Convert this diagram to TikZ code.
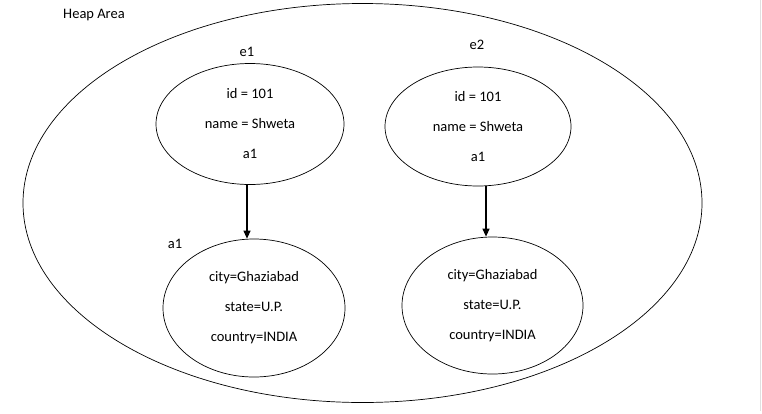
\documentclass[tikz,border=0pt]{standalone}
\usepackage{fontspec}
\setmainfont{Carlito}
\usetikzlibrary{shapes.geometric,arrows.meta}
\begin{document}
\begin{tikzpicture}[x=1pt,y=-1pt,
  every node/.style={font=\fontsize{14.5}{30}\selectfont, text=black},
  oval/.style={draw, ellipse, line width=0.7pt, inner sep=0pt, align=center},
  link/.style={line width=1.1pt, -{Triangle[length=8pt,width=7pt]}},
  lbl/.style={inner sep=0pt}]
\useasboundingbox (0,0) rectangle (762,413);
\fill[white] (0,0) rectangle (762,413);
\draw[black!12, line width=0.8pt] (760.6,0) -- (760.6,411);
% heap
\node[oval, minimum width=679pt, minimum height=399pt] (heap) at (362.5,203) {};
\node[lbl] (heaplbl) at (94,15) {Heap Area};
% objects
\node[oval, minimum width=188pt, minimum height=121pt] (e1) at (250,124) {id = 101\\name = Shweta\\a1};
\node[oval, minimum width=186pt, minimum height=119pt] (e2) at (478,126.5) {id = 101\\name = Shweta\\a1};
\node[oval, minimum width=182pt, minimum height=138pt] (a1l) at (254,308) {city=Ghaziabad\\state=U.P.\\country=INDIA};
\node[oval, minimum width=181pt, minimum height=137pt] (a1r) at (492.5,305.5) {city=Ghaziabad\\state=U.P.\\country=INDIA};
% labels
\node[lbl] (e1lbl) at (247,52) {e1};
\node[lbl] (e2lbl) at (477,45) {e2};
\node[lbl] (a1lbl) at (175,244) {a1};
% arrows
\coordinate (s1) at (247,184);
\coordinate (s2) at (486,186);
\draw[link] (s1) -- (s1 |- a1l.north);
\draw[link] (s2) -- (s2 |- a1r.north);
\end{tikzpicture}
\end{document}
